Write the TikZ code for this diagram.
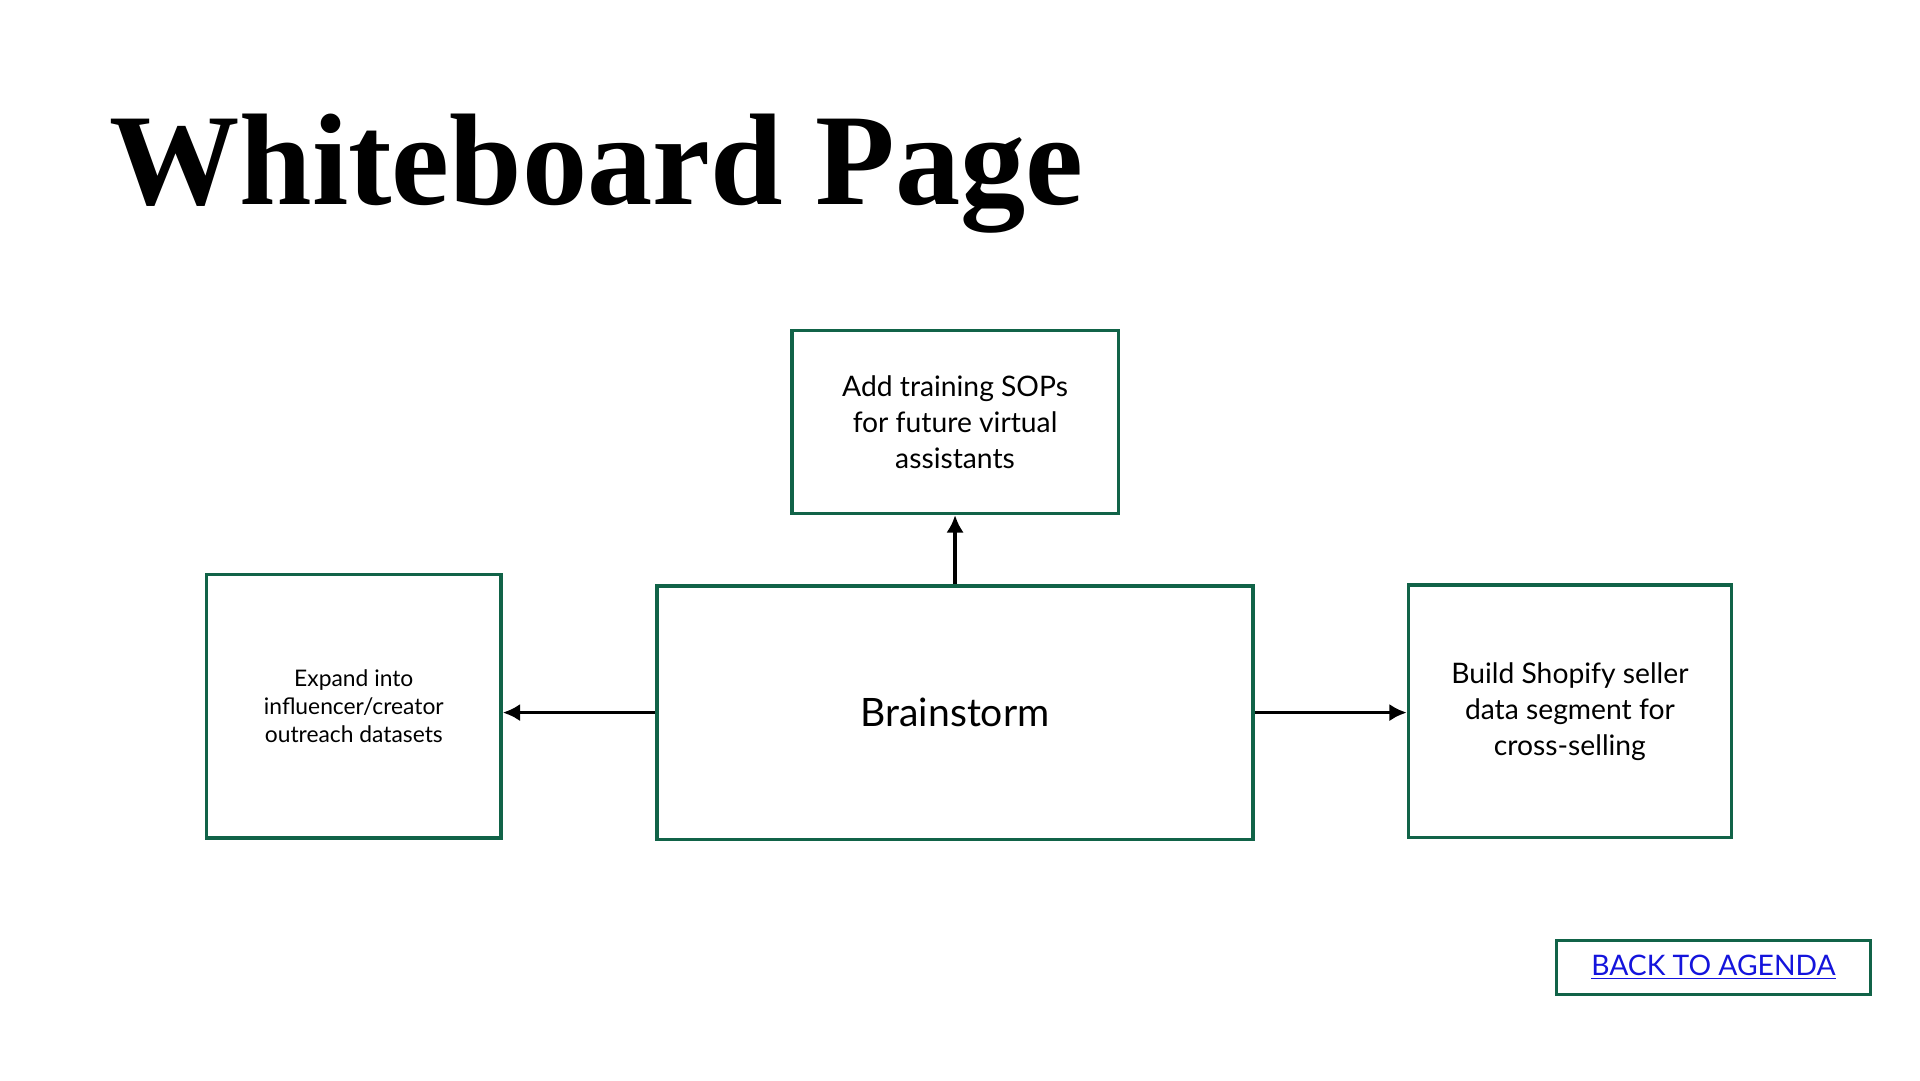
\documentclass[tikz,border=0pt]{standalone}
\usepackage{fontspec}
\setmainfont{Lato}
\newfontfamily\titlefont{Liberation Serif}
\usetikzlibrary{arrows.meta,positioning}
\definecolor{boxgreen}{RGB}{17,99,72}
\definecolor{linkblue}{RGB}{20,20,220}

\begin{document}
\begin{tikzpicture}[
    x=0.02cm, y=-0.02cm,
    box/.style={rectangle, draw=boxgreen, line width=1.6pt, align=center},
    arrow/.style={-{Latex[length=8pt,width=8pt]}, line width=1.7pt}
]
    \useasboundingbox (0,0) rectangle (1552,873);
    \node[anchor=base west, inner sep=0pt, font=\titlefont\bfseries\fontsize{60}{62}\selectfont] (title) at (88,165) {Whiteboard Page};

    \node[box, minimum width=9.64cm, minimum height=4.1cm, font=\fontsize{18}{22}\selectfont] (brain) at (772,576) {Brainstorm};
    \node[box, minimum width=5.28cm, minimum height=2.96cm, font=\fontsize{13}{16.5}\selectfont] (sops) at (772,341) {Add training SOPs\\for future virtual\\assistants};
    \node[box, minimum width=4.76cm, minimum height=4.26cm, font=\fontsize{10.5}{13}\selectfont] (expand) at (286,571) {Expand into\\influencer/creator\\outreach datasets};
    \node[box, minimum width=5.22cm, minimum height=4.08cm, font=\fontsize{13}{16.5}\selectfont] (shopify) at (1269,575) {Build Shopify seller\\data segment for\\cross-selling};
    \node[box, line width=1.2pt, minimum width=5.08cm, minimum height=0.88cm, font=\fontsize{13}{16}\selectfont, text=linkblue] (agenda) at (1385,782) {\underline{BACK TO AGENDA}};

    \draw[arrow] (brain) -- (sops);
    \draw[arrow] (brain.west) -- (expand.east |- brain.west);
    \draw[arrow] (brain.east) -- (shopify.west |- brain.east);
\end{tikzpicture}
\end{document}
